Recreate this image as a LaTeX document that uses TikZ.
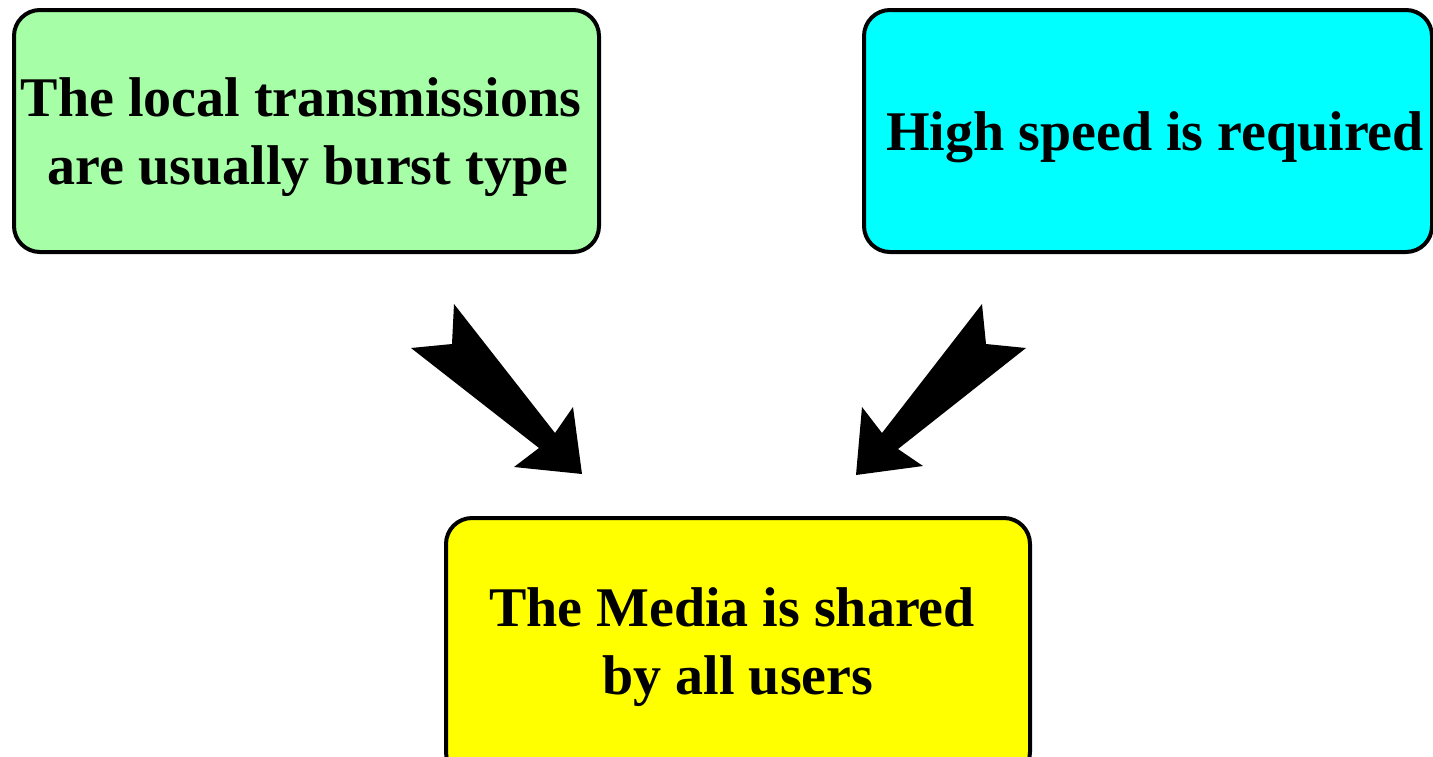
\documentclass[tikz,border=0pt]{standalone}
\usepackage{fontspec}
\setmainfont{Liberation Serif}
\begin{document}
\begin{tikzpicture}[x=1pt,y=-1pt]
\definecolor{lgreen}{HTML}{A6FFA6}
\definecolor{bcyan}{HTML}{00FFFF}
\definecolor{byellow}{HTML}{FFFF00}
\tikzset{
  box/.style={draw=black, line width=4pt, rounded corners=26pt, inner sep=0pt},
  lbl/.style={font=\fontsize{56}{68}\selectfont\bfseries, align=center, inner sep=0pt},
  blockarrow/.style={fill=black, draw=none}
}
\useasboundingbox (0,0) rectangle (1433,756);
% boxes
\node[box, fill=lgreen, minimum width=585pt, minimum height=242pt] (g) at (306.5,131) {};
\node[box, fill=bcyan, minimum width=568pt, minimum height=242pt] (c) at (1148,131) {};
\node[box, fill=byellow, minimum width=584pt, minimum height=260pt] (y) at (738,648) {};
% texts
\node[lbl] (gt) at (308,137) {The local transmissions\hbox to 14pt{}\\ are usually burst type};
\node[lbl] (ct) at (1155,137) {High speed is required};
\node[lbl] (yt) at (738,647) {The Media is shared\hbox to 12pt{}\\ by all users};
% block arrows
\fill[blockarrow] (454,304) -- (555,433) -- (573,407) -- (582,474) -- (514,467) -- (539,448) -- (411,348) -- (452,344) -- cycle;
\fill[blockarrow] (982,304) -- (882,433) -- (862,407) -- (856,475) -- (923,466) -- (898,449) -- (1026,348) -- (986,344) -- cycle;
\end{tikzpicture}
\end{document}
